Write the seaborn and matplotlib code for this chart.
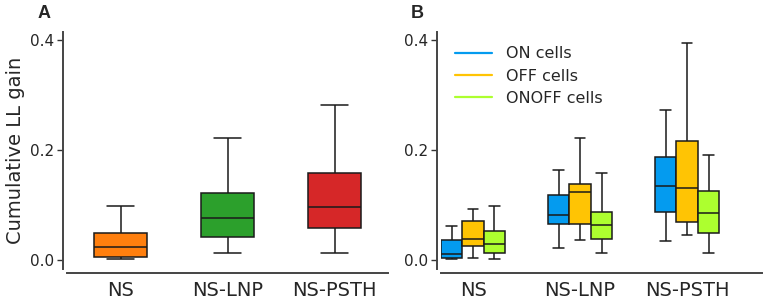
import numpy as np
import pandas as pd
import matplotlib
matplotlib.use("Agg")
import matplotlib.pyplot as plt
import seaborn as sns
from matplotlib.lines import Line2D

# five-number summaries: low whisker, q1, median, q3, high whisker
models = ["NS", "NS-LNP", "NS-PSTH"]
cells = ["ON cells", "OFF cells", "ONOFF cells"]

all_NS = [0.002, 0.0055, 0.024, 0.0497, 0.0976]
all_LNP = [0.012, 0.042, 0.076, 0.122, 0.222]
all_PSTH = [0.012, 0.058, 0.097, 0.159, 0.281]

on_NS = [0.002, 0.0036, 0.0115, 0.036, 0.062]
off_NS = [0.0036, 0.0255, 0.038, 0.0715, 0.092]
onoff_NS = [0.002, 0.0127, 0.0297, 0.0527, 0.0976]
on_LNP = [0.0218, 0.0648, 0.0818, 0.1176, 0.164]
off_LNP = [0.037, 0.066, 0.124, 0.1388, 0.222]
onoff_LNP = [0.012, 0.0388, 0.063, 0.088, 0.158]
on_PSTH = [0.0345, 0.0867, 0.135, 0.188, 0.273]
off_PSTH = [0.0455, 0.0697, 0.1315, 0.217, 0.394]
onoff_PSTH = [0.012, 0.0497, 0.086, 0.125, 0.191]

colors_A = ["#ff7f0e", "#2ca02c", "#d62728"]
colors_B = ["#049bef", "#ffc404", "#adff2f"]

rows = []
for m, vals in zip(models, [all_NS, all_LNP, all_PSTH]):
    for v in vals:
        rows.append((m, v))
dfA = pd.DataFrame(rows, columns=["model", "gain"])

groups = {
    ("NS", "ON cells"): on_NS, ("NS", "OFF cells"): off_NS, ("NS", "ONOFF cells"): onoff_NS,
    ("NS-LNP", "ON cells"): on_LNP, ("NS-LNP", "OFF cells"): off_LNP, ("NS-LNP", "ONOFF cells"): onoff_LNP,
    ("NS-PSTH", "ON cells"): on_PSTH, ("NS-PSTH", "OFF cells"): off_PSTH, ("NS-PSTH", "ONOFF cells"): onoff_PSTH,
}
rows = []
for (m, c), vals in groups.items():
    for v in vals:
        rows.append((m, c, v))
dfB = pd.DataFrame(rows, columns=["model", "cell", "gain"])

sns.set_style("white")
plt.rcParams['font.family'] = ['DejaVu Sans']

fig = plt.figure(figsize=(7.65, 3.08), dpi=100)
axA = fig.add_axes([67/765, 39/308, 321/765, 237/308])
axB = fig.add_axes([441/765, 39/308, 321/765, 237/308])

box_kw = dict(whis=(0, 100), showfliers=False, saturation=1, linecolor="#1a1a1a", linewidth=1.1)

sns.boxplot(data=dfA, x="model", y="gain", hue="model", palette=colors_A, order=models,
            width=0.5, legend=False, ax=axA, **box_kw)
sns.boxplot(data=dfB, x="model", y="gain", hue="cell", palette=colors_B, order=models,
            hue_order=cells, width=0.6, gap=0, legend=False, ax=axB, **box_kw)

for ax in (axA, axB):
    ax.set_ylim(-0.0164, 0.4145)
    ax.set_yticks([0.0, 0.2, 0.4])
    ax.set_yticklabels(["0.0", "0.2", "0.4"])
    ax.set_xlabel("")
    ax.tick_params(axis="y", labelsize=11, length=4, width=1, color="#333333", pad=2, left=True)
    ax.tick_params(axis="x", labelsize=14, length=0, pad=6)
    sns.despine(ax=ax, offset=3)
    for s in ("left", "bottom"):
        ax.spines[s].set_color("#444444")
        ax.spines[s].set_linewidth(1.4)

axA.set_xlim(-0.5, 2.5)
axB.set_xlim(-0.3, 2.7)
axA.set_ylabel("Cumulative LL gain", fontsize=14, labelpad=4)
axB.set_ylabel("")

handles = [Line2D([0], [0], color=c, lw=1.6) for c in colors_B]
axB.legend(handles, cells, loc="upper left", bbox_to_anchor=(0.0, 1.0), frameon=False,
           fontsize=11.5, handlelength=2.3, handletextpad=0.9, labelspacing=0.45)

fig.text(38/765, 1 - 18/308, "A", fontsize=13, fontweight="bold", family="Liberation Sans")
fig.text(411/765, 1 - 18/308, "B", fontsize=13, fontweight="bold", family="Liberation Sans")

fig.savefig("out.png", dpi=100)
